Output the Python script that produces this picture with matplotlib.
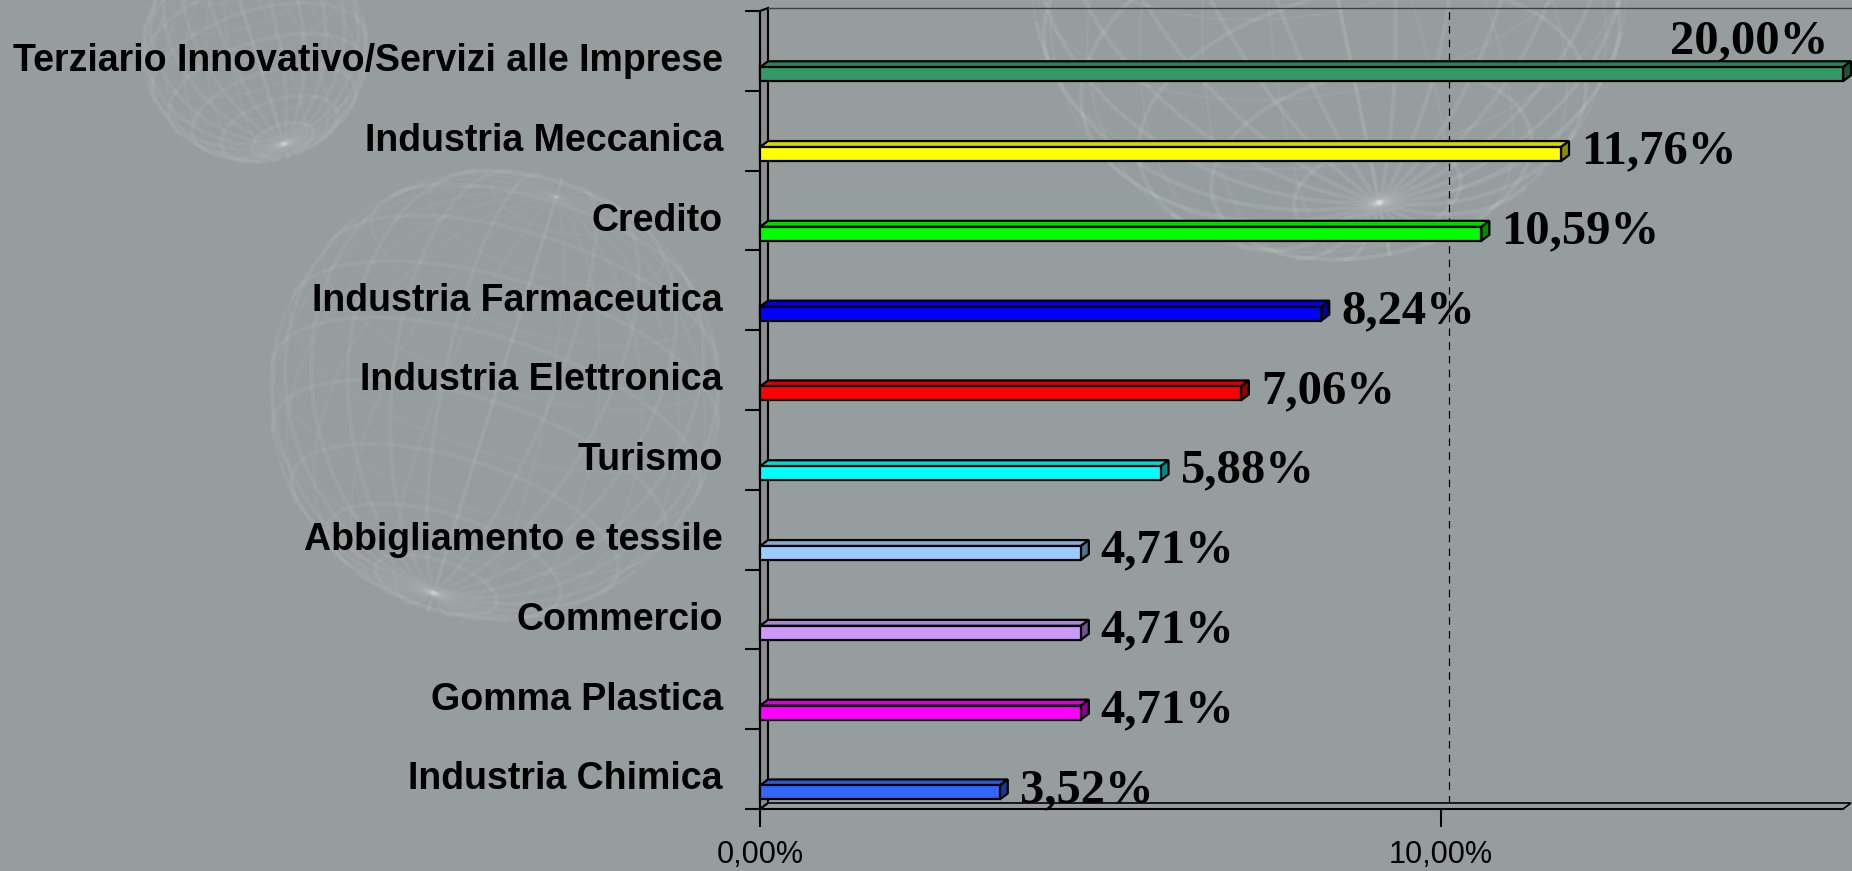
import matplotlib
matplotlib.use("Agg")
import matplotlib.pyplot as plt
import numpy as np
from matplotlib.patches import Polygon, Rectangle
from matplotlib.colors import to_rgb

sectors = ["Terziario Innovativo/Servizi alle Imprese", "Industria Meccanica", "Credito",
           "Industria Farmaceutica", "Industria Elettronica", "Turismo",
           "Abbigliamento e tessile", "Commercio", "Gomma Plastica", "Industria Chimica"]
shares = [20.00, 11.76, 10.59, 8.24, 7.06, 5.88, 4.71, 4.71, 4.71, 3.52]
bar_colors = ["#339966", "#ffff00", "#00ff00", "#0000ff", "#ff0000",
              "#00ffff", "#99ccff", "#cc99ff", "#ff00ff", "#3366ff"]
xticks = [0, 10]
xtick_labels = ["0,00%", "10,00%"]

BG = "#969d9e"
W, H, DPI = 1852, 871, 100
XMAX = 15.9


def wire_sphere(ax, cx, cy, r, tilt, alpha):
    # faint wireframe globe used as slide decoration
    t = np.linspace(0, 2 * np.pi, 240)
    lines = []
    for lon in np.linspace(0, np.pi, 12, endpoint=False):
        lines.append((np.cos(t) * np.cos(lon), np.cos(t) * np.sin(lon), np.sin(t)))
    for lat in np.linspace(-np.pi / 2, np.pi / 2, 12)[1:-1]:
        lines.append((np.cos(lat) * np.cos(t), np.cos(lat) * np.sin(t), np.full_like(t, np.sin(lat))))
    a, b = tilt
    for x, y, z in lines:
        y, z = y * np.cos(a) - z * np.sin(a), y * np.sin(a) + z * np.cos(a)
        x, z = x * np.cos(b) + z * np.sin(b), -x * np.sin(b) + z * np.cos(b)
        front = np.where(y < 0, x, np.nan)
        back = np.where(y >= 0, x, np.nan)
        ax.plot(cx + r * front, cy + r * z, color="white", lw=3, alpha=alpha)
        ax.plot(cx + r * back, cy + r * z, color="white", lw=2, alpha=alpha * 0.5)


fig = plt.figure(figsize=(W / DPI, H / DPI), dpi=DPI, facecolor=BG)

bg = fig.add_axes([0, 0, 1, 1], zorder=-1)
bg.set_xlim(0, W)
bg.set_ylim(H, 0)
bg.axis("off")
wire_sphere(bg, 255, 50, 112, (0.5, 0.3), 0.06)
wire_sphere(bg, 495, 395, 225, (0.4, -0.3), 0.06)
wire_sphere(bg, 1330, -40, 300, (0.6, 0.2), 0.09)

# front plane of the 3d box, in pixels
x0, x1, ytop, ybot = 760, 1843, 11, 809
ax = fig.add_axes([x0 / W, 1 - ybot / H, (x1 - x0) / W, (ybot - ytop) / H])
ax.set_facecolor("none")
ax.set_xlim(0, XMAX)
ax.set_ylim(0, len(sectors))

# depth of the pseudo-3d effect, px -> data units
px_x = XMAX / (x1 - x0)
px_y = len(sectors) / (ybot - ytop)
dx, dy = 8 * px_x, 6 * px_y
n = len(sectors)

# left wall, floor, back wall top edge and gridline
ax.add_patch(Polygon([(0, 0), (0, n), (dx, n + 3 * px_y), (dx, dy)], closed=True,
                     fc="#8a8d8e", ec="black", lw=1.5, zorder=1, clip_on=False))
ax.add_patch(Polygon([(0, 0), (XMAX, 0), (XMAX + dx, dy), (dx, dy)], closed=True,
                     fc="none", ec="black", lw=1.2, zorder=1, clip_on=False))
ax.plot([dx, XMAX + dx], [n + 3 * px_y] * 2, color="#404040", lw=1, zorder=1, clip_on=False)
ax.plot([10 + dx, 10 + dx], [dy, n + 3 * px_y], color="black", lw=0.9,
        ls=(0, (6, 5)), zorder=1)

h = 0.175
for i, (name, v, c) in enumerate(zip(sectors, shares, bar_colors)):
    yb = n - 1 - i
    y0 = yb + 0.12
    v_draw = min(v, XMAX)
    rgb = to_rgb(c)
    top = tuple(0.85 * k for k in rgb)
    side = tuple(0.55 * k for k in rgb)
    ax.add_patch(Polygon([(0, y0 + h), (v_draw, y0 + h), (v_draw + dx, y0 + h + dy),
                          (dx, y0 + h + dy)], closed=True, fc=top, ec="black",
                         lw=1.6, zorder=3, clip_on=False))
    ax.add_patch(Polygon([(v_draw, y0), (v_draw + dx, y0 + dy), (v_draw + dx, y0 + h + dy),
                          (v_draw, y0 + h)], closed=True, fc=side, ec="black",
                         lw=1.6, zorder=3, clip_on=False))
    ax.add_patch(Rectangle((0, y0), v_draw, h, fc=c, ec="black", lw=1.6, zorder=4,
                           clip_on=False))

    lab = f"{v:.2f}%".replace(".", ",")
    if v > XMAX:
        ax.text(XMAX - 15 * px_x, yb + 0.47, lab, ha="right", va="baseline",
                family="Liberation Serif", weight="bold", fontsize=35, zorder=5)
    else:
        ax.text(v + 20 * px_x, yb + 0.09, lab, ha="left", va="baseline",
                family="Liberation Serif", weight="bold", fontsize=35, zorder=5)

    ax.text(-37 * px_x, yb + 0.245, name, ha="right", va="baseline",
            family="Liberation Sans", weight="bold", fontsize=27, clip_on=False)

for s in ["top", "right"]:
    ax.spines[s].set_visible(False)
for s in ["left", "bottom"]:
    ax.spines[s].set_linewidth(1.5)
    ax.spines[s].set_zorder(2)

ax.set_yticks(range(n + 1))
ax.set_yticklabels([])
ax.tick_params(axis="y", length=11, width=1.5, direction="out")
ax.set_xticks(xticks)
ax.set_xticklabels(xtick_labels, family="Liberation Sans", fontsize=22)
ax.tick_params(axis="x", length=13, width=1.5, direction="out", pad=9)

fig.savefig("out.png", dpi=DPI, facecolor=BG)
